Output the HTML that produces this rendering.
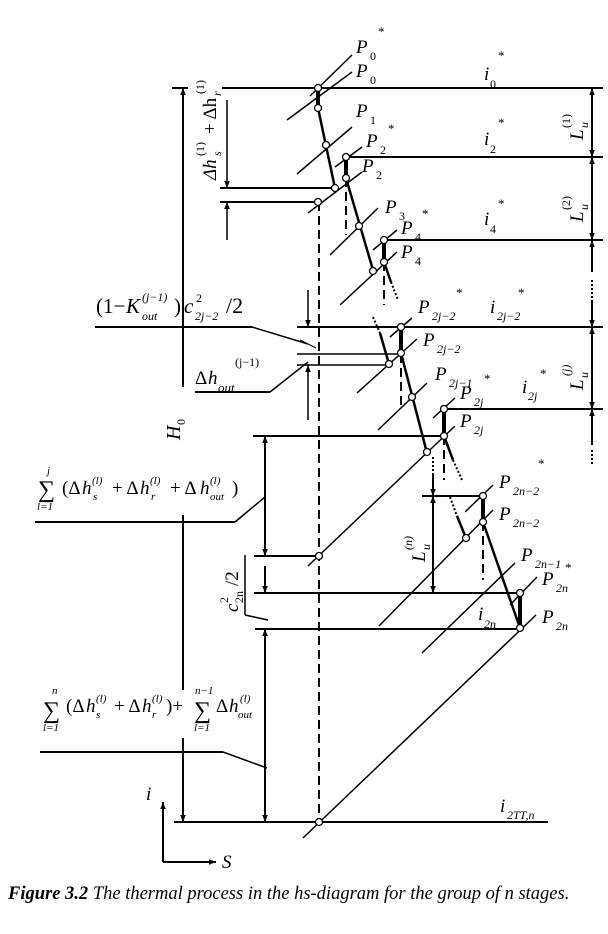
<!DOCTYPE html>
<html><head><meta charset="utf-8"><style>
html,body{margin:0;padding:0;background:#fff;}
svg{display:block;}
text{font-family:"Liberation Serif",serif;font-style:italic;fill:#000;}
.up{font-style:normal;}
</style></head><body>
<svg width="608" height="934" viewBox="0 0 608 934" xmlns="http://www.w3.org/2000/svg">
<defs>
<marker id="a" viewBox="0 0 10 10" refX="10" refY="5" markerWidth="7" markerHeight="10" orient="auto-start-reverse" markerUnits="userSpaceOnUse"><path d="M0,1 L10,5 L0,9 z" fill="#000"/></marker>
</defs>
<g stroke="#000" fill="none" stroke-width="2">
<line x1="172" y1="88" x2="188" y2="88"/><line x1="222" y1="88" x2="603" y2="88"/>
<line x1="346" y1="157" x2="603" y2="157"/>
<line x1="220" y1="188" x2="335" y2="188"/>
<line x1="220" y1="202" x2="318" y2="202"/>
<line x1="384" y1="240" x2="603" y2="240"/>
<line x1="95" y1="327" x2="252" y2="327"/><line x1="252" y1="327" x2="308" y2="344" stroke-width="1.5"/>
<line x1="297" y1="327" x2="603" y2="327"/>
<line x1="297" y1="354" x2="401" y2="354" stroke-width="1.5"/>
<line x1="297" y1="365" x2="389" y2="365" stroke-width="1.5"/>
<line x1="195" y1="392" x2="270" y2="392"/><line x1="270" y1="392" x2="308" y2="362" stroke-width="1.5"/>
<line x1="444" y1="409" x2="603" y2="409"/>
<line x1="253" y1="436" x2="444" y2="436"/>
<line x1="35" y1="522" x2="235" y2="522"/><line x1="235" y1="522" x2="265" y2="497" stroke-width="1.5"/>
<line x1="422" y1="496" x2="483" y2="496"/>
<line x1="254" y1="556" x2="318" y2="556"/>
<line x1="254" y1="593" x2="520" y2="593"/>
<line x1="245" y1="555" x2="245" y2="615" stroke-width="1.5"/><line x1="245" y1="615" x2="268" y2="620" stroke-width="1.5"/>
<line x1="255" y1="629" x2="521" y2="629"/>
<line x1="40" y1="752" x2="223" y2="752"/><line x1="223" y1="752" x2="267" y2="768" stroke-width="1.5"/>
<line x1="174" y1="822" x2="548" y2="822"/>
<line x1="183" y1="88" x2="183" y2="387" marker-start="url(#a)"/>
<line x1="183" y1="515" x2="183" y2="690"/>
<line x1="183" y1="738" x2="183" y2="822" marker-end="url(#a)"/>
<line x1="227" y1="100" x2="227" y2="188" stroke-width="1.5" marker-end="url(#a)"/>
<line x1="227" y1="240" x2="227" y2="202" stroke-width="1.5" marker-end="url(#a)"/>
<line x1="308" y1="290" x2="308" y2="327" stroke-width="1.5" marker-end="url(#a)"/>
<line x1="308" y1="420" x2="308" y2="365" stroke-width="1.5" marker-end="url(#a)"/>
<line x1="300" y1="340" x2="316" y2="348" stroke-width="1"/>
<line x1="265" y1="436" x2="265" y2="556" marker-start="url(#a)" marker-end="url(#a)"/>
<line x1="265" y1="566" x2="265" y2="593" marker-end="url(#a)"/>
<line x1="265" y1="629" x2="265" y2="822" marker-start="url(#a)" marker-end="url(#a)"/>
<line x1="592" y1="88" x2="592" y2="157" marker-start="url(#a)" marker-end="url(#a)"/>
<line x1="592" y1="157" x2="592" y2="240" marker-start="url(#a)" marker-end="url(#a)"/>
<line x1="592" y1="240" x2="592" y2="272" marker-start="url(#a)"/>
<line x1="592" y1="280" x2="592" y2="300" stroke-dasharray="2,2"/>
<line x1="592" y1="300" x2="592" y2="327" marker-end="url(#a)"/>
<line x1="592" y1="327" x2="592" y2="409" marker-start="url(#a)" marker-end="url(#a)"/>
<line x1="592" y1="409" x2="592" y2="445" marker-start="url(#a)"/>
<line x1="592" y1="450" x2="592" y2="465" stroke-dasharray="2,2"/>
<line x1="433" y1="457" x2="433" y2="475" stroke-dasharray="2,2"/>
<line x1="433" y1="475" x2="433" y2="496" marker-end="url(#a)"/>
<line x1="433" y1="496" x2="433" y2="593" marker-start="url(#a)" marker-end="url(#a)"/>
<g stroke-dasharray="9,5">
<line x1="319" y1="202" x2="319" y2="822"/>
<line x1="346" y1="178" x2="346" y2="235"/>
<line x1="384" y1="262" x2="384" y2="305"/>
<line x1="401" y1="354" x2="401" y2="408"/>
<line x1="444" y1="436" x2="444" y2="480"/>
<line x1="483" y1="522" x2="483" y2="580"/>
</g>
<g stroke-width="1.5">
<line x1="310" y1="96" x2="352" y2="55"/>
<line x1="287" y1="120" x2="352" y2="72"/>
<line x1="297" y1="174" x2="352" y2="127"/>
<line x1="335" y1="167" x2="362" y2="147"/>
<line x1="308" y1="213" x2="362" y2="172"/>
<line x1="330" y1="255" x2="378" y2="208"/>
<line x1="373" y1="250" x2="397" y2="230"/>
<line x1="340" y1="305" x2="397" y2="252"/>
<line x1="390" y1="337" x2="412" y2="318"/>
<line x1="357" y1="393" x2="417" y2="339"/>
<line x1="378" y1="430" x2="427" y2="383"/>
<line x1="433" y1="418" x2="455" y2="398"/>
<line x1="308" y1="566" x2="455" y2="426"/>
<line x1="465" y1="512" x2="493" y2="485"/>
<line x1="379" y1="626" x2="493" y2="510"/>
<line x1="422" y1="653" x2="515" y2="563"/>
<line x1="510" y1="605" x2="537" y2="577"/>
<line x1="303" y1="838" x2="536" y2="615"/>
</g>
<line x1="318" y1="88" x2="318" y2="108" stroke-width="4"/>
<line x1="318" y1="108" x2="335" y2="188" stroke-width="2.5"/>
<line x1="346" y1="157" x2="346" y2="178" stroke-width="4"/>
<line x1="346" y1="178" x2="373" y2="270" stroke-width="2.5"/>
<line x1="384" y1="240" x2="384" y2="262" stroke-width="4"/>
<line x1="384" y1="262" x2="391" y2="282" stroke-width="2.5"/>
<line x1="391" y1="282" x2="398" y2="300" stroke-width="2" stroke-dasharray="2,2"/>
<line x1="373" y1="317" x2="380" y2="333" stroke-width="2" stroke-dasharray="2,2"/>
<line x1="380" y1="333" x2="389" y2="364" stroke-width="2.5"/>
<line x1="401" y1="327" x2="401" y2="353" stroke-width="4"/>
<line x1="401" y1="353" x2="427" y2="453" stroke-width="2.5"/>
<line x1="444" y1="409" x2="444" y2="436" stroke-width="4"/>
<line x1="444" y1="436" x2="453" y2="460" stroke-width="2.5"/>
<line x1="453" y1="460" x2="462" y2="480" stroke-width="2" stroke-dasharray="2,2"/>
<line x1="450" y1="497" x2="457" y2="516" stroke-width="2" stroke-dasharray="2,2"/>
<line x1="457" y1="516" x2="466" y2="538" stroke-width="2.5"/>
<line x1="483" y1="496" x2="483" y2="522" stroke-width="4"/>
<line x1="483" y1="522" x2="520" y2="628" stroke-width="2.5"/>
<line x1="520" y1="593" x2="520" y2="628" stroke-width="4"/>
<line x1="163" y1="862" x2="163" y2="802" marker-end="url(#a)"/>
<line x1="163" y1="862" x2="216" y2="862" marker-end="url(#a)"/>
</g>
<g fill="#fff" stroke="#000" stroke-width="1.3">
<circle cx="318" cy="88" r="3.5"/><circle cx="318" cy="108" r="3.5"/><circle cx="326" cy="145" r="3.5"/>
<circle cx="335" cy="188" r="3.5"/><circle cx="346" cy="157" r="3.5"/><circle cx="346" cy="178" r="3.5"/>
<circle cx="318" cy="202" r="3.5"/><circle cx="359" cy="226" r="3.5"/><circle cx="373" cy="271" r="3.5"/>
<circle cx="384" cy="240" r="3.5"/><circle cx="384" cy="262" r="3.5"/>
<circle cx="401" cy="327" r="3.5"/><circle cx="401" cy="353" r="3.5"/><circle cx="389" cy="364" r="3.5"/>
<circle cx="412" cy="397" r="3.5"/><circle cx="444" cy="409" r="3.5"/><circle cx="444" cy="436" r="3.5"/>
<circle cx="427" cy="452" r="3.5"/><circle cx="319" cy="556" r="3.5"/>
<circle cx="483" cy="496" r="3.5"/><circle cx="483" cy="522" r="3.5"/><circle cx="466" cy="538" r="3.5"/>
<circle cx="520" cy="593" r="3.5"/><circle cx="520" cy="628" r="3.5"/><circle cx="319" cy="822" r="3.5"/>
</g>
<g font-size="19">
<text x="356" y="53">P</text><text x="370" y="60" font-size="12" class="up">0</text><text x="378" y="36" font-size="13" class="up">*</text>
<text x="356" y="77">P</text><text x="370" y="84" font-size="12" class="up">0</text>
<text x="356" y="117">P</text><text x="370" y="124" font-size="12" class="up">1</text>
<text x="366" y="147">P</text><text x="380" y="154" font-size="12" class="up">2</text><text x="388" y="133" font-size="13" class="up">*</text>
<text x="362" y="172">P</text><text x="376" y="179" font-size="12" class="up">2</text>
<text x="385" y="213">P</text><text x="399" y="220" font-size="12" class="up">3</text>
<text x="401" y="234">P</text><text x="415" y="241" font-size="12" class="up">4</text><text x="422" y="218" font-size="13" class="up">*</text>
<text x="401" y="258">P</text><text x="415" y="265" font-size="12" class="up">4</text>
<text x="484" y="80">i</text><text x="490" y="88" font-size="12" class="up">0</text><text x="498" y="60" font-size="13" class="up">*</text>
<text x="484" y="145">i</text><text x="490" y="153" font-size="12" class="up">2</text><text x="498" y="127" font-size="13" class="up">*</text>
<text x="484" y="225">i</text><text x="490" y="233" font-size="12" class="up">4</text><text x="498" y="208" font-size="13" class="up">*</text>
<text x="418" y="313">P</text><text x="432" y="320" font-size="12">2j−2</text><text x="456" y="297" font-size="13" class="up">*</text>
<text x="490" y="313">i</text><text x="497" y="320" font-size="12">2j−2</text><text x="518" y="297" font-size="13" class="up">*</text>
<text x="423" y="346">P</text><text x="437" y="353" font-size="12">2j−2</text>
<text x="435" y="380">P</text><text x="449" y="387" font-size="12">2j−1</text><text x="484" y="383" font-size="13" class="up">*</text>
<text x="460" y="399">P</text><text x="474" y="406" font-size="12">2j</text>
<text x="522" y="393">i</text><text x="528" y="400" font-size="12">2j</text><text x="540" y="378" font-size="13" class="up">*</text>
<text x="460" y="427">P</text><text x="474" y="434" font-size="12">2j</text>
<text x="538" y="468" font-size="13" class="up">*</text>
<text x="499" y="488">P</text><text x="513" y="495" font-size="12">2n−2</text>
<text x="499" y="520">P</text><text x="513" y="527" font-size="12">2n−2</text>
<text x="521" y="561">P</text><text x="535" y="568" font-size="12">2n−1</text><text x="565" y="572" font-size="13" class="up">*</text>
<text x="542" y="585">P</text><text x="556" y="592" font-size="12">2n</text>
<text x="542" y="623">P</text><text x="556" y="630" font-size="12">2n</text>
<text x="478" y="620">i</text><text x="484" y="628" font-size="12">2n</text>
<text x="500" y="812">i</text><text x="507" y="819" font-size="12">2TT,n</text>
<text x="146" y="800">i</text>
<text x="222" y="868">S</text>
<g transform="translate(216,180) rotate(-90)"><text x="0" y="0">Δh</text><text x="24" y="5" font-size="12">s</text><text x="24" y="-12" font-size="12" class="up">(1)</text><text x="46" y="0" class="up">+ Δh</text><text x="84" y="5" font-size="12">r</text><text x="86" y="-12" font-size="12" class="up">(1)</text></g>
<g transform="translate(583,140) rotate(-90)"><text x="0" y="0">L</text><text x="12" y="5" font-size="12">u</text><text x="12" y="-13" font-size="12" class="up">(1)</text></g>
<g transform="translate(583,222) rotate(-90)"><text x="0" y="0">L</text><text x="12" y="5" font-size="12">u</text><text x="12" y="-13" font-size="12" class="up">(2)</text></g>
<g transform="translate(583,390) rotate(-90)"><text x="0" y="0">L</text><text x="12" y="5" font-size="12">u</text><text x="14" y="-13" font-size="12">(j)</text></g>
<g transform="translate(425,562) rotate(-90)"><text x="0" y="0">L</text><text x="12" y="5" font-size="12">u</text><text x="12" y="-13" font-size="12">(n)</text></g>
<g transform="translate(180,440) rotate(-90)"><text x="0" y="0" font-size="20">H</text><text x="15" y="5" font-size="12" class="up">0</text></g>
<g transform="translate(238,612) rotate(-90)"><text x="0" y="0">c</text><text x="9" y="5" font-size="12" class="up">2n</text><text x="9" y="-10" font-size="12" class="up">2</text><text x="26" y="0" class="up">/2</text></g>
<text x="96" y="313" font-size="21" class="up">(1−</text><text x="126" y="313" font-size="21">K</text><text x="142" y="320" font-size="12">out</text><text x="142" y="301" font-size="12">(j−1)</text><text x="174" y="313" font-size="21" class="up">)</text><text x="184" y="313" font-size="21">c</text><text x="195" y="320" font-size="12">2j−2</text><text x="196" y="302" font-size="12" class="up">2</text><text x="226" y="313" font-size="22" class="up">/2</text>
<text x="195" y="384" class="up">Δ</text><text x="208" y="384">h</text><text x="218" y="392" font-size="13">out</text><text x="235" y="366" font-size="12" class="up">(j−1)</text>
<text x="38" y="497" font-size="24" class="up">∑</text><text x="47" y="474" font-size="11">j</text><text x="37" y="510" font-size="11">l=1</text>
<text x="62" y="494" font-size="19" class="up">(Δ</text><text x="82" y="494">h</text><text x="93" y="500" font-size="11">s</text><text x="92" y="484" font-size="11">(l)</text>
<text x="112" y="494" class="up">+ Δ</text><text x="140" y="494">h</text><text x="151" y="500" font-size="11">r</text><text x="150" y="484" font-size="11">(l)</text>
<text x="170" y="494" class="up">+ Δ</text><text x="200" y="494">h</text><text x="210" y="500" font-size="11">out</text><text x="210" y="484" font-size="11">(l)</text><text x="232" y="494" class="up">)</text>
<text x="43" y="718" font-size="24" class="up">∑</text><text x="52" y="694" font-size="11">n</text><text x="43" y="731" font-size="11">l=1</text>
<text x="66" y="712" class="up">(Δ</text><text x="86" y="712">h</text><text x="96" y="718" font-size="11">s</text><text x="96" y="702" font-size="11">(l)</text>
<text x="114" y="712" class="up">+ Δ</text><text x="142" y="712">h</text><text x="152" y="718" font-size="11">r</text><text x="152" y="702" font-size="11">(l)</text><text x="166" y="712" class="up">)+</text>
<text x="194" y="718" font-size="24" class="up">∑</text><text x="195" y="694" font-size="11">n−1</text><text x="194" y="731" font-size="11">l=1</text>
<text x="216" y="712" class="up">Δ</text><text x="229" y="712">h</text><text x="238" y="718" font-size="11">out</text><text x="240" y="702" font-size="11">(l)</text>
</g>
<text x="8" y="899" font-size="18.5"><tspan font-weight="bold">Figure 3.2</tspan>  The thermal process in the hs-diagram for the group of n stages.</text>
</svg>
</body></html>
